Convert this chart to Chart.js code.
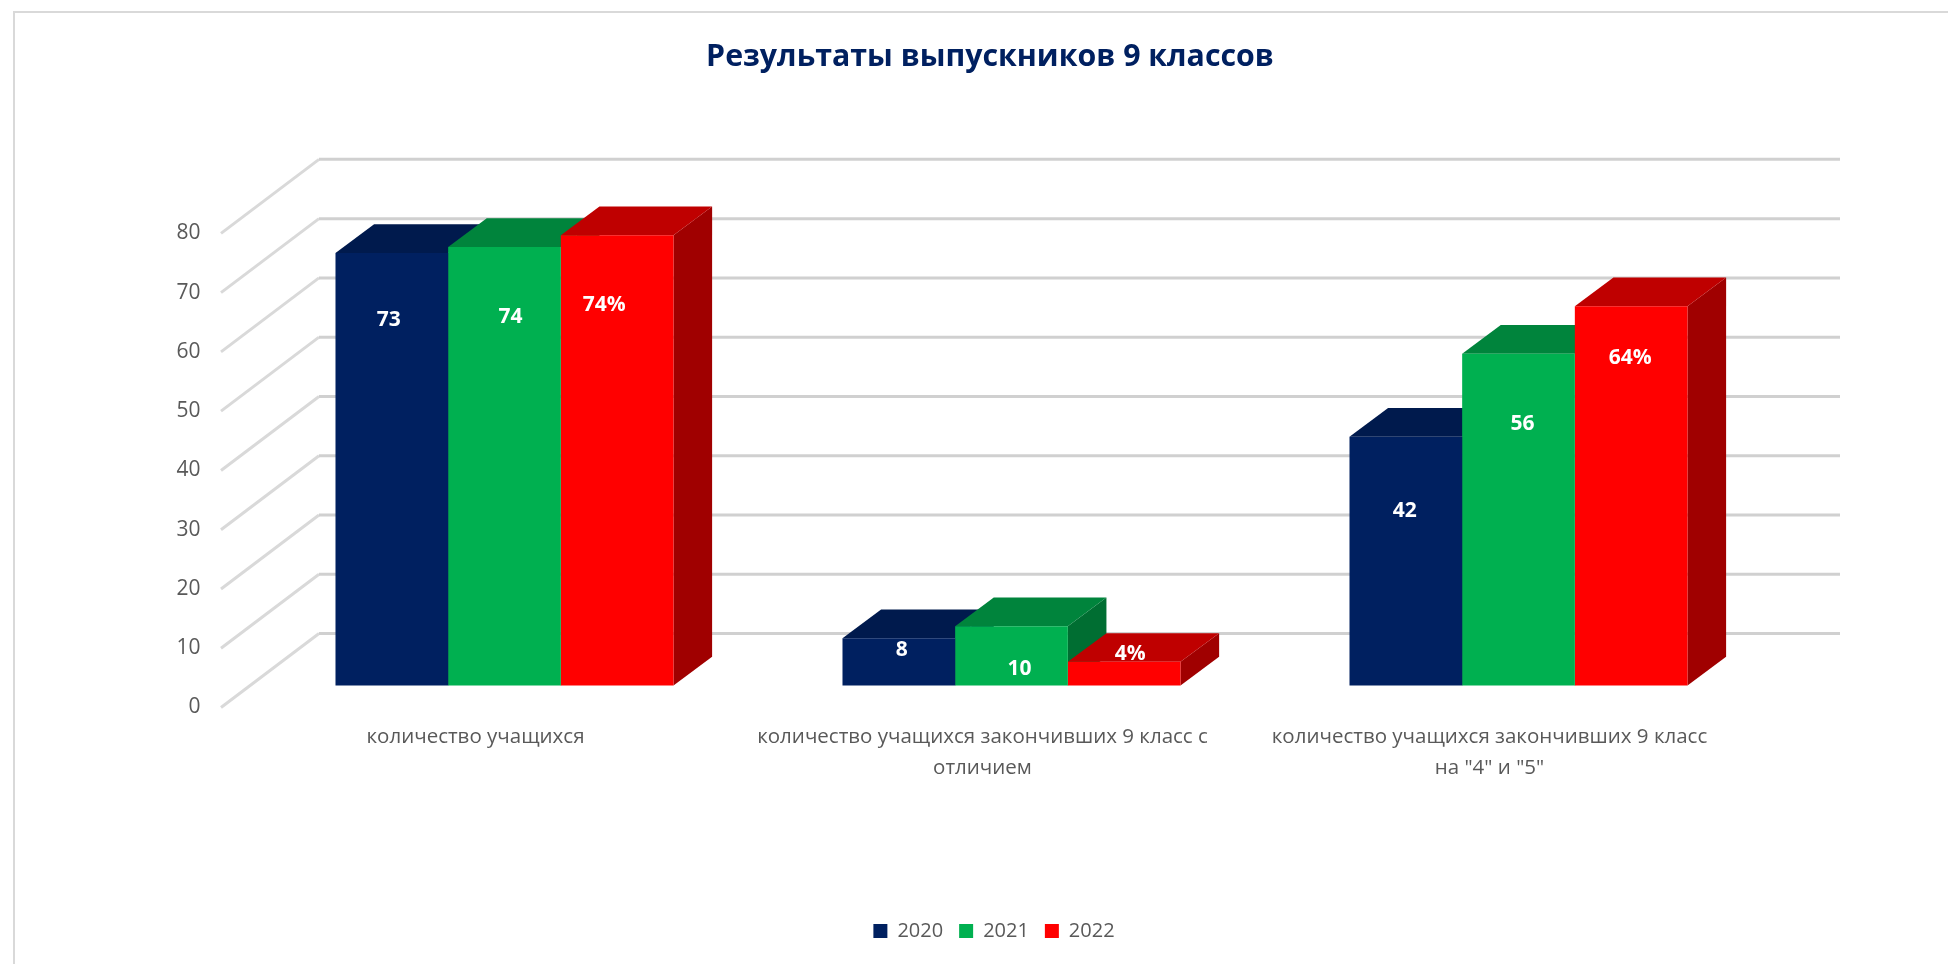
<!DOCTYPE html>
<html>
<head>
    <title>Результаты выпускников 9 классов</title>
    <script src="https://cdn.jsdelivr.net/npm/chart.js"></script>
    <style>
        html, body { margin: 0; padding: 0; background: #fff; overflow: hidden; }
        canvas { position: absolute; left: 0; top: 0; }
        .frame {
            position: absolute; left: 13px; top: 11px; width: 2000px; height: 1000px;
            border-left: 2.5px solid #d9d9d9; border-top: 2.5px solid #d9d9d9;
        }
    </style>
</head>
<body>
    <div class="frame"></div>
    <canvas id="barChart" width="1948" height="964"></canvas>

    <script>
        const categories = [
            'количество учащихся',
            ['количество учащихся закончивших 9 класс с', 'отличием'],
            ['количество учащихся закончивших 9 класс', 'на "4" и "5"']
        ];
        const years = ['2020', '2021', '2022'];
        const values2020 = [73, 8, 42];
        const values2021 = [74, 10, 56];
        const values2022 = [76, 4, 64];
        const labels2020 = ['73', '8', '42'];
        const labels2021 = ['74', '10', '56'];
        const labels2022 = ['74%', '4%', '64%'];
        const yTicksMin = 0;
        const yTicksMax = 80;
        const yTicksStep = 10;

        const valueLabels = [labels2020, labels2021, labels2022];
        // where the labels sit, relative to the top centre of their bar
        const labelNudge = [
            [[-3, 67], [3, 12], [-1, 74]],
            [[6, 70], [8, 43], [4, 70]],
            [[-13, 70], [6, -8], [-1, 52]]
        ];
        const barColors = ['#002060', '#00B050', '#FF0000'];
        const topColors = ['#001a4d', '#00843C', '#BF0000'];
        const sideColors = ['#001440', '#006E32', '#A00000'];
        const textColor = '#595959';
        const fontName = '"Open Sans", sans-serif';

        // bars stand in the middle of the floor, so their zero is above the front edge
        const floorOffset = 3.7;
        const wallDx = 98, wallDy = 74;
        const barDx = 38.6, barDy = 28.7;

        function polygon(ctx, points, color) {
            ctx.fillStyle = color;
            ctx.beginPath();
            points.forEach((p, i) => i ? ctx.lineTo(p[0], p[1]) : ctx.moveTo(p[0], p[1]));
            ctx.closePath();
            ctx.fill();
        }

        const box3d = {
            id: 'box3d',
            afterLayout(chart) {
                // legend sits a little right of the title
                chart.legend.left += 8;
            },
            beforeDatasetsDraw(chart) {
                // back wall lines and floor/side lines for every tick
                const { ctx, chartArea, scales } = chart;
                ctx.save();
                ctx.lineWidth = 3;
                scales.y.ticks.forEach(tick => {
                    const y = scales.y.getPixelForValue(tick.value);
                    const backX = chartArea.left + wallDx - 30;
                    ctx.strokeStyle = '#d9d9d9';
                    ctx.beginPath();
                    ctx.moveTo(backX - wallDx, y);
                    ctx.lineTo(backX, y - wallDy);
                    ctx.stroke();
                    ctx.strokeStyle = '#d0d0d0';
                    ctx.beginPath();
                    ctx.moveTo(backX, y - wallDy);
                    ctx.lineTo(1840, y - wallDy);
                    ctx.stroke();
                });
                ctx.restore();

                // sides and tops, left to right, the fronts are drawn by chart.js after this
                chart.data.datasets.forEach((ds, i) => {
                    chart.getDatasetMeta(i).data.forEach(bar => {
                        const left = bar.x - bar.width / 2;
                        const right = bar.x + bar.width / 2;
                        polygon(ctx, [[right, bar.y], [right + barDx, bar.y - barDy],
                            [right + barDx, bar.base - barDy], [right, bar.base]], sideColors[i]);
                        polygon(ctx, [[left, bar.y], [left + barDx, bar.y - barDy],
                            [right + barDx, bar.y - barDy], [right, bar.y]], topColors[i]);
                    });
                });
            },
            afterDatasetsDraw(chart) {
                const ctx = chart.ctx;
                ctx.save();
                ctx.fillStyle = '#fff';
                ctx.font = 'bold 21px ' + fontName;
                ctx.textAlign = 'center';
                ctx.textBaseline = 'middle';
                chart.data.datasets.forEach((ds, i) => {
                    chart.getDatasetMeta(i).data.forEach((bar, j) => {
                        ctx.fillText(valueLabels[i][j], bar.x + labelNudge[i][j][0], bar.y + labelNudge[i][j][1]);
                    });
                });
                ctx.restore();
            }
        };

        new Chart(document.getElementById('barChart'), {
            type: 'bar',
            data: {
                labels: categories,
                datasets: [
                    { label: years[0], data: values2020, backgroundColor: barColors[0], yAxisID: 'bars' },
                    { label: years[1], data: values2021, backgroundColor: barColors[1], yAxisID: 'bars' },
                    { label: years[2], data: values2022, backgroundColor: barColors[2], yAxisID: 'bars' }
                ]
            },
            plugins: [box3d],
            options: {
                responsive: false,
                animation: false,
                layout: { padding: { left: 170, right: 138, top: 0, bottom: 13 } },
                datasets: { bar: { barPercentage: 1, categoryPercentage: 0.6667 } },
                plugins: {
                    title: {
                        display: true,
                        text: 'Результаты выпускников 9 классов',
                        color: '#002060',
                        font: { family: fontName, size: 30.3, weight: 'bold' },
                        padding: { top: 39, bottom: 158 }
                    },
                    legend: {
                        position: 'bottom',
                        labels: {
                            color: textColor,
                            font: { family: fontName, size: 20 },
                            boxWidth: 14,
                            boxHeight: 14,
                            padding: 16
                        }
                    }
                },
                scales: {
                    x: {
                        grid: { display: false },
                        border: { display: false },
                        ticks: {
                            color: textColor,
                            font: { family: fontName, size: 20.5, lineHeight: 1.5 },
                            padding: 6.5,
                            labelOffset: -29,
                            maxRotation: 0,
                            autoSkip: false
                        },
                        afterFit(scale) { scale.height = 197.5; }
                    },
                    y: {
                        min: yTicksMin,
                        max: yTicksMax,
                        grid: { display: false },
                        border: { display: false },
                        ticks: {
                            stepSize: yTicksStep,
                            color: textColor,
                            font: { family: fontName, size: 21 },
                            padding: 42.5
                        },
                        afterFit(scale) { scale.width = 81; }
                    },
                    bars: {
                        position: 'right',
                        min: yTicksMin - floorOffset,
                        max: yTicksMax - floorOffset,
                        grid: { display: false },
                        border: { display: false },
                        ticks: { display: false },
                        afterFit(scale) { scale.width = 38; }
                    }
                }
            }
        });
    </script>
</body>
</html>
